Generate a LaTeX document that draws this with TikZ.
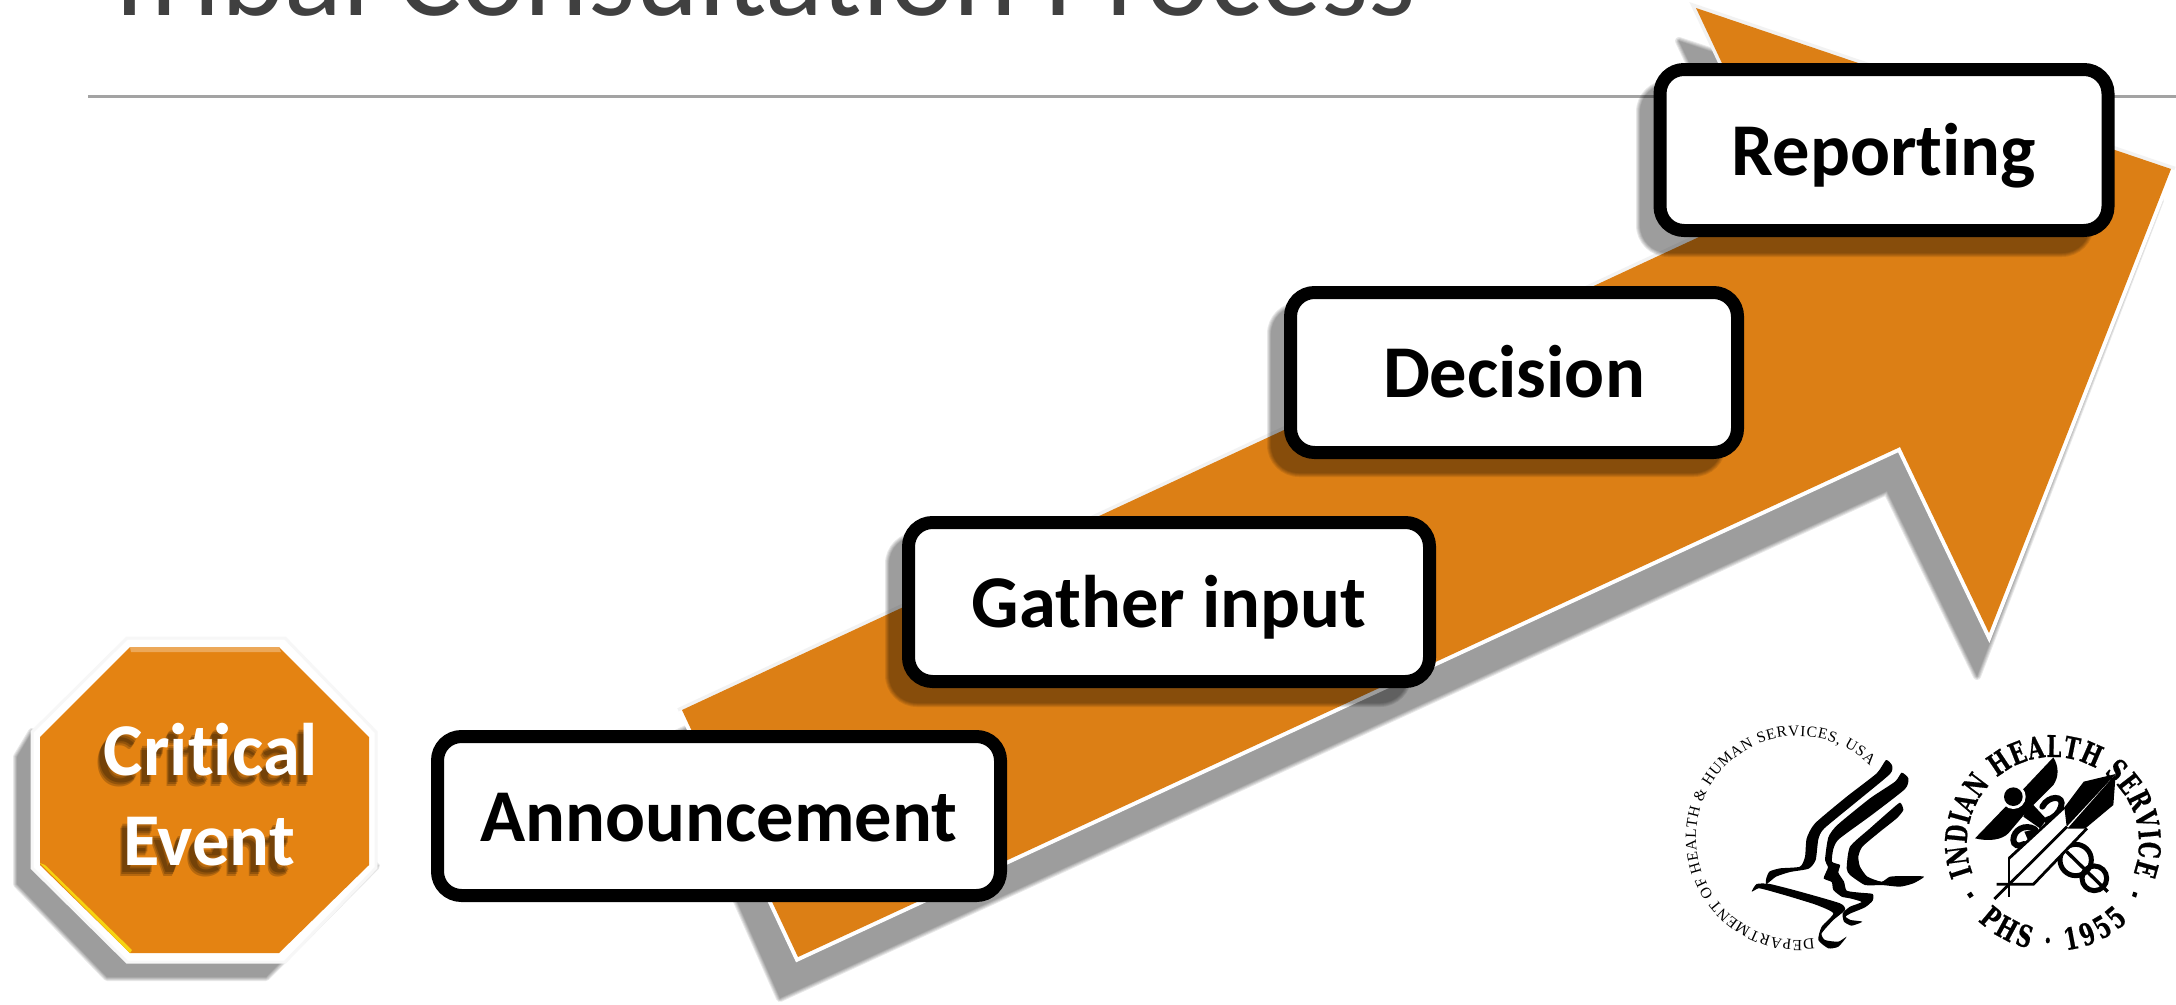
\documentclass[tikz,border=0pt]{standalone}
\usepackage{fontspec}
\usetikzlibrary{decorations.text}
\setmainfont[RawFeature={-liga;-clig;-dlig}]{Carlito}
\newfontfamily\dhhsfont{Liberation Serif}
\newfontfamily\ihsfont[FakeStretch=0.7,BoldFeatures={FakeBold=0.6}]{DejaVu Serif}
\definecolor{arroworange}{HTML}{DC7F15}
\definecolor{octorange}{HTML}{E48312}
\definecolor{titlegray}{HTML}{404040}
\definecolor{rulegray}{HTML}{A3A3A3}
\newcommand{\softshadow}[1]{%
  \foreach \w in {8,6,4,2,0.1}{%
    \begin{scope}[transparency group,opacity=.091]
      \path[fill=black,draw=black,line join=round,line width=\w pt] #1;
    \end{scope}}}
\tikzset{
  stepbox/.style={draw=black,fill=white,line width=13pt,rounded corners=24pt,inner sep=0pt,
    text height=50pt,text depth=0pt,font=\fontsize{74.5}{74.5}\selectfont\bfseries,text=black},
  badge/.style={anchor=base,inner sep=0pt,font=\fontsize{74.5}{74.5}\selectfont\bfseries},
  ink/.style={fill=black,draw=none},
  inkline/.style={draw=black,fill=none,line cap=butt,line join=miter}
}
\begin{document}
\begin{tikzpicture}[x=1pt,y=-1pt]
\useasboundingbox (0,0) rectangle (2176,1004);
\fill[white] (0,0) rectangle (2176,1004);
% title
\begin{scope}
  \clip (0,0) rectangle (2176,1004);
  \node[anchor=base west,inner sep=0pt,text=titlegray,font=\fontsize{120.6}{120.6}\selectfont] (title) at (100,15) {Tribal Consultation Process};
\end{scope}
\fill[rulegray] (88,95) rectangle (2176,97.5);
% arrow
\softshadow{(665,739) -- (780,998) -- (1887,491) -- (1977,676) -- (2160,200) -- (1679,41) -- (1766,225) -- cycle}
\draw[black!5,line width=7pt,line join=miter]
  (682,710) -- (798,957) -- (1900,447) -- (1989,633) -- (2171,169) -- (1696,8) -- (1785,197) -- cycle;
\draw[white,line width=8pt,line join=miter] (682,710) -- (798,957) -- (1900,447) -- (1989,633) -- (2171,169);
\fill[arroworange] (682,710) -- (798,957) -- (1900,447) -- (1989,633) -- (2171,169) -- (1696,8) -- (1785,197) -- cycle;
% octagon
\softshadow{(32,732) -- (17,757) -- (17,884) -- (107,977) -- (266,977) -- (376,866) -- cycle}
\path[draw=black!3,line width=3pt,fill=white] (127,638) -- (285,638) -- (376,732) -- (376,868) -- (285,962) -- (127,962) -- (32,868) -- (32,732) -- cycle;
\fill[octorange] (130,647) -- (279,647) -- (369,737) -- (369,865) -- (279,953) -- (130,953) -- (40,865) -- (40,737) -- cycle;
\fill[octorange!70!white] (130,647) -- (279,647) -- (281,652) -- (131,652) -- cycle;
\fill[yellow!70!octorange] (40,863) -- (45,865) -- (132,950) -- (130,953) -- cycle;
\foreach \dx/\dy in {-5/7,-6/9,-7/11}{
  \node[badge,opacity=.2,text=black] at (211+\dx,775+\dy) {Critical};
  \node[badge,opacity=.2,text=black] at (209+\dx,865+\dy) {Event};
}
\node[badge,text=white] (critical) at (211,775) {Critical};
\node[badge,text=white] (event) at (209,865) {Event};
% box shadows
\softshadow{[rounded corners=28pt] (1271,306) rectangle (1722,473)}
\softshadow{[rounded corners=28pt] (889,536) rectangle (1408,703)}
\softshadow{[rounded corners=28pt] (1640,84) rectangle (2090,253)}
% boxes
\node[stepbox,minimum width=563pt,minimum height=159pt] (announcement) at (719,816) {Announcement};
\node[stepbox,minimum width=521pt,minimum height=159pt] (gather) at (1169,602) {Gather input};
\node[stepbox,minimum width=447pt,minimum height=160pt] (decision) at (1514,372.5) {Decision};
\node[stepbox,minimum width=448pt,minimum height=161pt] (reporting) at (1884,150) {Reporting};
% DHHS logo
\path[decorate,decoration={text along path,text align={fit to path},
  text={|\dhhsfont\fontsize{15.5}{15.5}\selectfont|DEPARTMENT OF HEALTH {\&} HUMAN SERVICES{,} USA}}]
  ([shift={(1798,838)}]279:102pt) arc[start angle=279,delta angle=-234,radius=102pt];
\begin{scope}[shift={(1750,750)},scale=1/3]
  \fill[ink] plot[smooth cycle,tension=.35] coordinates {(408,30) (426,46) (420,72) (320,155) (222,236) (205,268) (197,330) (176,356) (120,366) (78,380) (50,402) (48,388) (58,365) (90,355) (150,350) (165,320) (170,265) (195,220) (290,140) (380,70)};
  \fill[ink] plot[smooth cycle,tension=.35] coordinates {(455,68) (475,85) (465,117) (365,195) (267,267) (250,297) (246,335) (270,345) (265,368) (282,395) (290,422) (330,428) (368,432) (368,452) (345,472) (302,490) (287,500) (302,510) (337,515) (305,527) (282,515) (278,490) (300,470) (335,456) (300,445) (275,440) (250,420) (245,396) (221,385) (234,352) (225,330) (235,262) (262,225) (360,145) (435,95)};
  \fill[ink] plot[smooth cycle,tension=.35] coordinates {(450,158) (460,180) (440,205) (390,245) (337,290) (325,320) (330,350) (352,380) (395,395) (420,380) (470,378) (522,380) (490,400) (450,410) (395,405) (345,405) (300,375) (290,355) (300,290) (360,235) (420,182)};
  \fill[ink] plot[smooth cycle,tension=.35] coordinates {(5,425) (20,402) (60,402) (150,425) (270,460) (285,480) (250,510) (215,550) (225,570) (265,575) (290,560) (265,590) (235,595) (205,570) (215,530) (250,490) (200,465) (120,440) (50,420) (25,415)};
\end{scope}
% IHS logo
\path[decorate,decoration={text along path,text align={fit to path},
  text={|\ihsfont\bfseries\fontsize{30}{30}\selectfont|INDIAN HEALTH SERVICE}}]
  ([shift={(2053,843)}]201:86pt) arc[start angle=201,delta angle=-222,radius=86pt];
\path[decorate,decoration={text along path,text align={fit to path},
  text={|\ihsfont\bfseries\fontsize{30}{30}\selectfont|PHS · 1955}}]
  ([shift={(2053,843)}]226:108pt) arc[start angle=226,delta angle=88,radius=108pt];
\begin{scope}[shift={(1920,710)},scale=1/3]
  \fill[ink] (141,553) -- (153,545) -- (161,557) -- (149,565) -- cycle;
  \fill[ink] (640,545) -- (652,549) -- (648,563) -- (636,558) -- cycle;
\end{scope}
\begin{scope}[shift={(1985,750)},scale=1/3]
  % caduceus
  \draw[black,line width=5pt] (272,330) circle[radius=47];
  \draw[black,line width=5pt] (328,385) circle[radius=37];
  \draw[inkline,line width=3.4pt] (245,305) -- (368,425);
  % wing
  \fill[ink] (205,22) .. controls (222,50) and (222,80) .. (205,105) -- (150,160) -- (125,185) -- (70,250) .. controls (50,270) and (10,275) .. (-30,265) -- (54,178) -- (120,112) -- cycle;
  \fill[white] (85,140) circle[radius=37];
  \fill[ink] (85,140) circle[radius=28];
  % serpent
  \fill[ink] (125,175) -- (145,165) -- (185,208) -- (165,235) -- (115,200) -- cycle;
  \draw[black,line width=6pt,line cap=round] (172,170) .. controls (190,135) and (240,135) .. (228,170) .. controls (222,190) and (205,205) .. (185,210);
  \draw[black,line width=6pt,line cap=round] (150,238) .. controls (120,220) and (85,240) .. (85,270) .. controls (85,285) and (100,292) .. (118,282);
  \fill[ink] (118,245) -- (155,238) -- (155,265) -- (128,268) -- cycle;
  % staff
  \fill[white] (72,325) -- (238,172) -- (245,232) -- (306,235) -- (145,403) -- (72,403) -- cycle;
  \draw[inkline,line width=2.8pt] (72,325) -- (238,172);
  \draw[inkline,line width=2.8pt] (72,325) -- (72,442);
  \draw[inkline,line width=2.8pt] (35,403) -- (145,403) -- (306,235);
  \draw[inkline,line width=2.8pt] (28,447) -- (246,230);
  % quill
  \fill[ink] (296,95) -- (392,72) -- (245,230) -- (238,172) -- cycle;
  \fill[ink] (392,72) -- (385,165) -- (300,236) -- (247,236) -- cycle;
\end{scope}
\end{tikzpicture}
\end{document}
